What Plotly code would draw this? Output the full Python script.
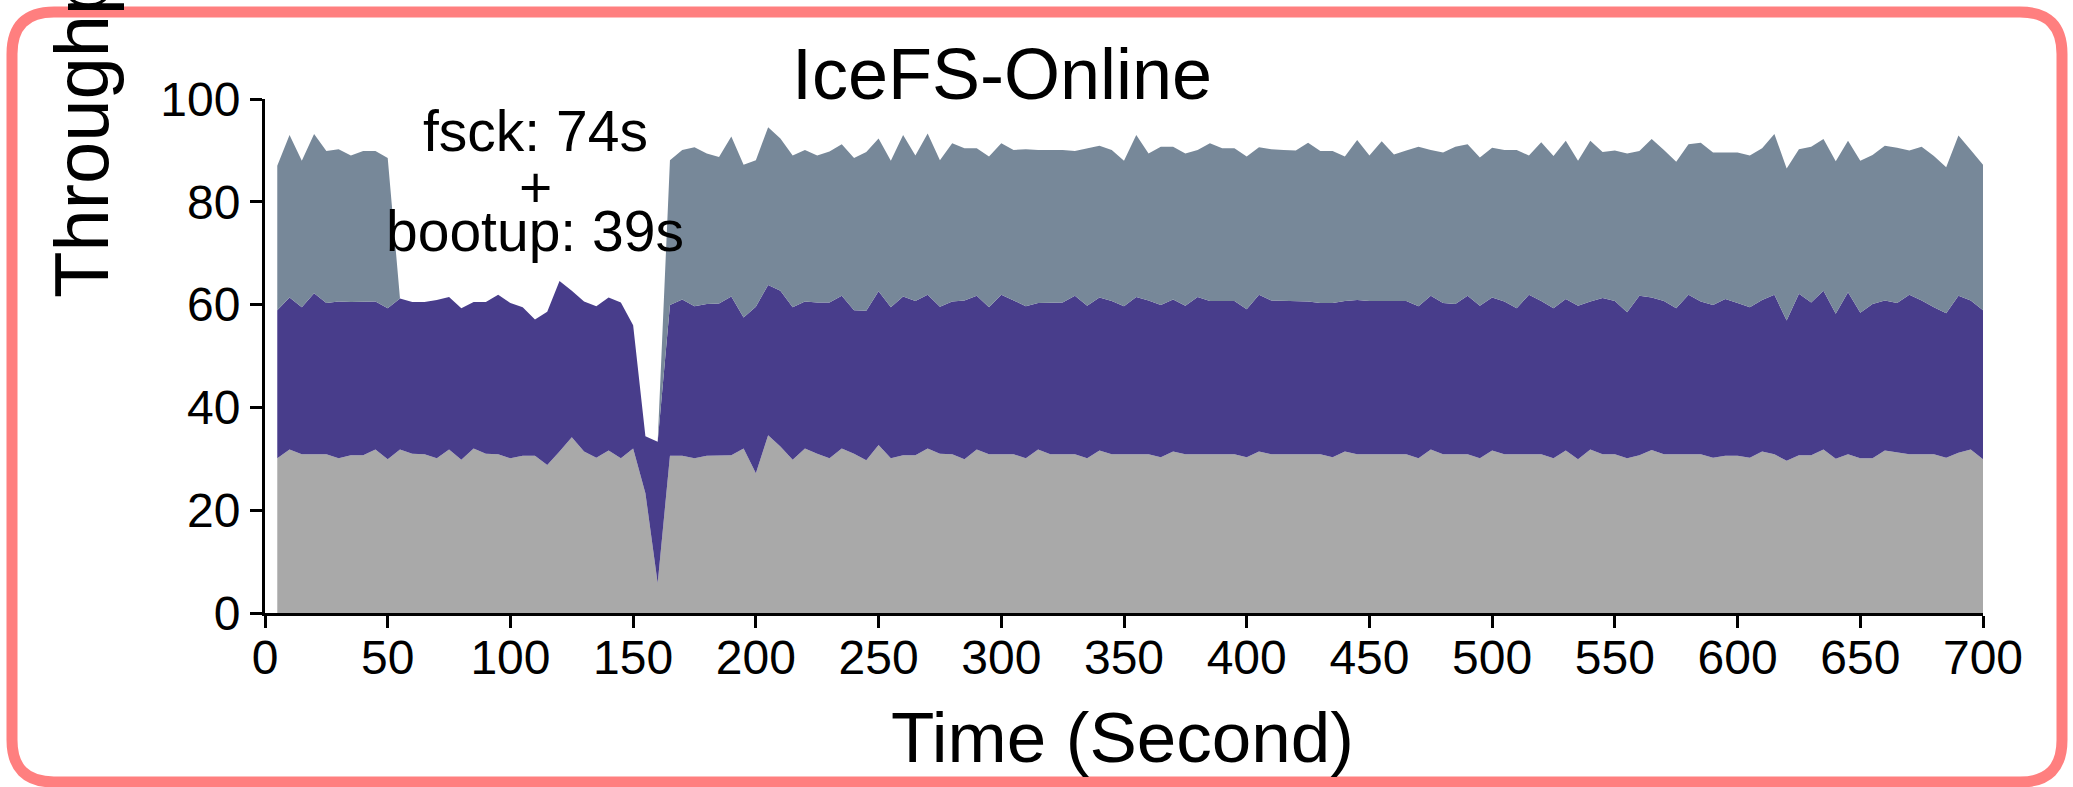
import plotly.graph_objects as go

# ---- data ----
time_s = list(range(5, 705, 5))

bottom_layer = [
    30.1, 31.8, 30.9, 30.9, 30.9, 30.1, 30.7, 30.7, 31.8, 29.9,
    31.8, 31.0, 30.9, 30.1, 31.8, 29.8, 32.0, 31.0, 30.9, 30.1,
    30.6, 30.6, 28.8, 31.4, 34.2, 31.4, 30.2, 31.6, 30.1, 32.0,
    23.3, 5.8, 30.6, 30.6, 30.1, 30.6, 30.6, 30.7, 32.0, 27.2,
    34.6, 32.4, 29.8, 32.0, 31.0, 30.1, 32.0, 31.0, 29.7, 32.7,
    30.1, 30.7, 30.7, 32.0, 31.0, 30.9, 29.9, 31.8, 30.9, 30.9,
    30.9, 30.1, 31.8, 30.9, 30.9, 30.9, 30.1, 31.6, 30.9, 30.9,
    30.9, 30.9, 30.3, 31.4, 30.9, 30.9, 30.9, 30.9, 30.9, 30.3,
    31.4, 30.9, 30.9, 30.9, 30.9, 30.9, 30.3, 31.4, 30.9, 30.9,
    30.9, 30.9, 30.9, 30.1, 31.8, 30.9, 30.9, 30.9, 30.1, 31.6,
    30.9, 30.9, 30.9, 30.9, 30.1, 31.6, 29.9, 31.8, 30.9, 30.9,
    30.1, 30.7, 31.7, 30.9, 30.9, 30.9, 30.9, 30.2, 30.6, 30.6,
    30.2, 31.4, 30.9, 29.6, 30.7, 30.7, 31.8, 30.0, 30.9, 30.1,
    30.1, 31.6, 31.2, 30.9, 30.9, 30.9, 30.2, 31.2, 31.8, 29.9,
]

middle_layer = [
    28.8, 29.6, 28.6, 31.3, 29.4, 30.5, 29.8, 29.8, 28.8, 29.4,
    29.4, 29.5, 29.6, 30.8, 29.7, 29.5, 28.5, 29.5, 31.0, 30.2,
    28.9, 26.5, 29.8, 33.2, 28.5, 29.2, 29.5, 29.8, 30.3, 24.0,
    11.1, 27.5, 29.3, 30.4, 29.6, 29.5, 29.6, 30.9, 25.5, 32.4,
    29.2, 30.3, 29.7, 28.6, 29.4, 30.3, 29.7, 27.9, 29.1, 29.9,
    29.4, 30.9, 30.0, 29.9, 28.6, 29.7, 30.9, 29.9, 28.6, 31.0,
    29.9, 29.6, 28.5, 29.5, 29.5, 30.8, 29.7, 29.8, 29.8, 28.8,
    30.6, 29.9, 29.6, 29.6, 28.9, 30.6, 29.8, 29.8, 29.8, 28.8,
    30.5, 29.9, 29.8, 29.8, 29.7, 29.4, 30.0, 29.3, 30.0, 29.8,
    29.8, 29.8, 29.8, 29.6, 29.9, 29.4, 29.2, 30.8, 29.7, 29.8,
    29.7, 28.4, 31.0, 29.8, 29.2, 29.5, 29.9, 28.8, 30.4, 29.8,
    28.4, 31.0, 29.7, 29.8, 28.4, 31.0, 29.7, 29.7, 30.5, 29.7,
    29.3, 29.5, 31.0, 27.3, 31.4, 29.7, 30.9, 28.2, 31.5, 28.3,
    30.0, 29.2, 29.1, 31.0, 29.9, 28.6, 28.1, 30.5, 29.0, 29.0,
]

top_layer = [
    28.1, 31.6, 28.5, 31.0, 29.6, 29.6, 28.5, 29.4, 29.3, 29.2,
    0, 0, 0, 0, 0, 0, 0, 0, 0, 0,
    0, 0, 0, 0, 0, 0, 0, 0, 0, 0,
    0, 0, 28.2, 29.1, 30.9, 29.3, 28.5, 31.1, 29.7, 28.5,
    30.7, 29.6, 29.5, 29.5, 28.6, 29.4, 29.5, 29.6, 30.9, 29.7,
    28.5, 31.4, 28.3, 31.4, 28.5, 30.8, 29.6, 28.7, 29.3, 29.5,
    29.3, 30.5, 29.8, 29.7, 29.7, 28.2, 30.6, 29.5, 29.4, 28.3,
    31.5, 28.6, 30.8, 29.7, 29.6, 28.6, 30.7, 29.7, 29.7, 29.7,
    28.7, 29.4, 29.4, 29.3, 30.9, 29.6, 29.6, 28.1, 31.1, 28.3,
    31.1, 28.5, 29.3, 31.0, 28.4, 29.3, 30.6, 29.5, 28.8, 29.1,
    29.5, 30.8, 27.1, 30.9, 29.6, 30.8, 28.2, 31.3, 28.4, 29.3,
    30.9, 28.2, 30.8, 29.4, 28.5, 29.3, 30.9, 29.7, 28.5, 29.3,
    29.5, 29.5, 31.3, 29.6, 28.1, 30.3, 29.5, 29.7, 29.5, 29.6,
    29.0, 30.1, 30.2, 28.1, 29.9, 29.4, 28.4, 31.2, 29.3, 28.3,
]

x_ticks = list(range(0, 701, 50))
y_ticks = list(range(0, 101, 20))

# ---- layout geometry (pixels) ----
W, H = 2073, 787
L, R, T, B = 265, 90, 99, 174
PW = W - L - R
PH = H - T - B
FONT = "Liberation Sans, Arial, Helvetica, sans-serif"


def px(xp):
    return (xp - L) / PW


def py(yp):
    return (H - B - yp) / PH


fig = go.Figure()
for name, vals, col in [
    ("bottom", bottom_layer, "#A9A9A9"),
    ("middle", middle_layer, "#483D8B"),
    ("top", top_layer, "#778899"),
]:
    fig.add_trace(go.Scatter(
        x=time_s, y=vals, name=name, mode="lines",
        stackgroup="one", line=dict(width=0, color=col),
        fillcolor=col, hoverinfo="skip",
    ))

axis_common = dict(
    showline=True, linecolor="black", linewidth=3,
    ticks="outside", ticklen=12, tickwidth=3, tickcolor="black",
    showgrid=False, zeroline=False,
    tickfont=dict(family=FONT, size=48, color="black"),
)
fig.update_xaxes(range=[0, 700], tickvals=x_ticks, ticklabelstandoff=-12, **axis_common)
fig.update_yaxes(range=[0, 100], tickvals=y_ticks, **axis_common)

ann = []
ann.append(dict(text="IceFS-Online", x=px(1002), y=py(74), xref="paper", yref="paper",
                xanchor="center", yanchor="middle", showarrow=False,
                font=dict(family=FONT, size=72, color="black")))
ann.append(dict(text="Time (Second)", x=px(1122), y=py(737), xref="paper", yref="paper",
                xanchor="center", yanchor="middle", showarrow=False,
                font=dict(family=FONT, size=71, color="black")))
ann.append(dict(text="Throughput (MB/s)", x=px(81), y=py(300), xref="paper", yref="paper",
                xanchor="center", yanchor="bottom", textangle=-90, showarrow=False,
                font=dict(family=FONT, size=76, color="black")))
for txt, yc in [("fsck: 74s", 131), ("+", 187), ("bootup: 39s", 231)]:
    ann.append(dict(text=txt, x=px(535), y=py(yc), xref="paper", yref="paper",
                    xanchor="center", yanchor="middle", showarrow=False,
                    font=dict(family=FONT, size=57, color="black")))

# rounded border
bl, bt, br, bb, r = 12, 12, 2062, 782, 42
path = (
    f"M {px(bl + r)},{py(bt)} L {px(br - r)},{py(bt)} "
    f"Q {px(br)},{py(bt)} {px(br)},{py(bt + r)} "
    f"L {px(br)},{py(bb - r)} Q {px(br)},{py(bb)} {px(br - r)},{py(bb)} "
    f"L {px(bl + r)},{py(bb)} Q {px(bl)},{py(bb)} {px(bl)},{py(bb - r)} "
    f"L {px(bl)},{py(bt + r)} Q {px(bl)},{py(bt)} {px(bl + r)},{py(bt)} Z"
)

fig.update_layout(
    width=W, height=H,
    margin=dict(l=L, r=R, t=T, b=B, pad=0),
    paper_bgcolor="white", plot_bgcolor="white",
    showlegend=False, annotations=ann,
    shapes=[dict(type="path", path=path, xref="paper", yref="paper",
                 line=dict(color="#FF7F7F", width=11), layer="above")],
)

fig.write_html(
    "out.html",
    config={"displayModeBar": False},
    post_script="document.body.style.margin='0px';document.body.style.overflow='hidden';",
)
